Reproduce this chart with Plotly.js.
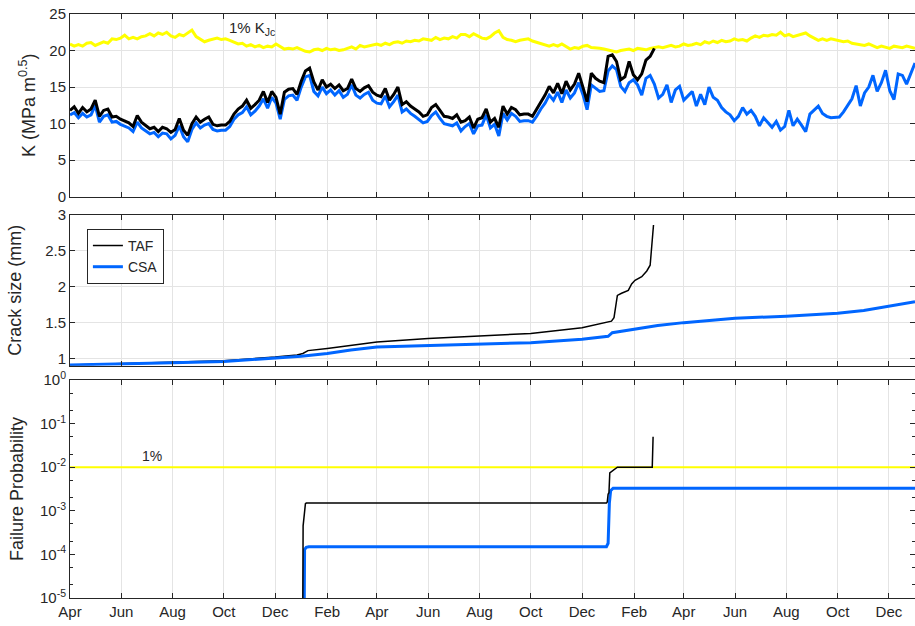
<!DOCTYPE html>
<html>
<head>
<meta charset="utf-8">
<script src="https://cdn.plot.ly/plotly-3.0.1.min.js"></script>
<style>
  html, body { margin: 0; padding: 0; background: #ffffff; }
  #chart { width: 915px; height: 626px; }
</style>
</head>
<body>
<div id="chart"></div>
<script>
// ---- time base: stress-intensity series sampled every 5 days from 1 Apr 2013 ----
const seriesStart = '2013-04-01';
const seriesStepDays = 5;
const axisRange = ['2013-04-01', '2016-01-01'];

// K, TAF model (MPa m^0.5)
const kTAF = [
  11.8,12.3,11.4,12.2,11.6,12.0,13.2,11.0,11.8,12.0,
  10.9,11.0,10.6,10.3,10.1,9.6,11.1,10.2,9.8,9.3,
  9.5,8.9,9.5,9.3,8.8,9.2,10.7,9.1,8.4,10.0,
  10.9,10.2,10.6,10.9,9.9,9.7,9.8,9.8,10.3,11.3,
  12.0,12.4,13.2,12.1,12.6,13.2,14.4,12.9,14.4,13.6,
  11.3,14.3,14.7,14.8,14.0,15.8,17.2,17.6,15.7,14.6,
  16.0,15.0,15.4,14.8,15.3,14.5,14.8,16.1,14.8,14.4,
  14.9,15.2,14.3,13.9,13.7,14.8,13.2,14.0,15.0,12.6,
  13.0,12.4,12.0,11.6,11.0,11.2,12.2,12.6,11.8,11.0,
  10.9,10.7,11.2,10.2,10.4,10.9,9.4,10.6,10.8,12.0,
  10.2,10.7,9.5,12.4,11.3,12.2,11.9,11.2,11.3,11.3,
  11.0,12.0,12.8,13.9,15.1,14.2,15.5,14.1,15.8,14.6,
  15.4,16.9,15.0,13.0,16.9,16.2,15.8,15.6,19.2,19.4,
  18.5,16.0,16.4,18.5,16.7,16.0,16.8,18.7,19.2,20.3
];

// K, CSA model (MPa m^0.5)
const kCSA = [
  11.2,11.5,10.8,11.4,10.9,11.2,12.5,10.2,11.0,11.2,
  10.2,10.3,9.9,9.6,9.4,8.9,10.2,9.4,9.0,8.6,
  8.8,8.2,8.7,8.6,7.9,8.4,9.7,8.2,7.5,9.2,
  10.1,9.4,9.8,10.0,9.2,9.0,9.1,9.1,9.6,10.6,
  11.2,11.5,12.3,11.2,11.7,12.4,13.4,12.1,13.6,12.8,
  10.6,13.3,13.8,13.9,13.2,15.0,16.4,16.6,14.4,13.8,
  15.0,14.1,14.6,13.9,14.5,13.6,14.0,15.3,13.9,13.5,
  14.0,14.3,13.2,12.8,12.7,13.8,12.3,13.0,13.9,11.6,
  12.0,11.4,11.0,10.6,10.1,10.3,11.1,11.6,10.7,10.0,
  9.9,9.7,10.1,9.0,9.6,10.0,8.6,9.7,9.8,11.2,
  9.4,9.9,8.3,11.4,10.5,11.4,11.0,10.3,10.4,10.4,
  10.2,11.0,12.0,12.8,13.9,13.2,14.3,12.9,14.6,13.5,
  14.2,15.6,14.0,11.9,15.3,14.8,14.4,14.5,17.2,17.9,
  17.4,15.1,14.4,15.6,16.0,15.3,13.9,16.2,16.6,15.4,
  13.5,14.0,15.3,12.9,14.6,15.1,13.2,13.8,14.4,12.4,
  14.0,12.6,15.0,13.6,13.2,12.2,11.6,11.2,10.4,11.0,
  12.2,11.3,11.8,11.0,9.7,10.8,10.1,9.5,10.3,9.1,
  9.6,11.8,9.7,10.6,9.8,8.9,11.3,11.9,12.4,11.4,
  11.0,10.8,10.8,10.9,11.6,12.5,13.4,15.2,12.4,14.2,
  15.0,16.6,14.4,15.6,17.3,14.5,13.3,16.8,16.6,15.4,
  16.8,18.3
];

// 1% fracture toughness K_Jc (MPa m^0.5)
const kJc1pct = [
  20.9,20.6,20.8,20.6,21.0,21.1,20.7,21.0,21.2,21.0,
  21.6,21.5,21.7,22.1,21.6,21.8,21.6,21.9,22.0,22.3,
  22.0,22.4,22.2,22.5,22.0,21.8,22.2,22.0,22.4,22.8,
  21.9,21.5,21.2,21.4,21.6,21.7,21.5,21.6,21.4,21.1,
  20.9,21.0,20.6,20.8,20.5,20.7,20.4,20.6,20.5,20.9,
  20.6,20.2,20.3,20.2,20.4,20.1,19.9,19.8,20.1,20.2,
  20.0,20.3,20.1,20.2,20.0,20.1,20.3,20.5,20.2,20.7,
  20.5,20.6,20.8,20.9,20.7,21.0,20.8,21.1,21.2,21.0,
  21.3,21.2,21.4,21.3,21.6,21.5,21.4,21.8,21.5,21.7,
  21.6,21.9,21.7,22.2,22.2,21.9,22.3,22.0,21.7,21.6,
  21.9,22.4,22.7,21.8,21.5,21.4,21.2,21.4,21.5,21.6,
  21.3,21.1,21.0,20.8,20.6,20.8,20.6,20.9,20.5,20.2,
  20.4,20.3,20.6,20.7,20.4,20.4,20.3,20.2,20.1,19.9,
  19.8,20.0,20.1,20.2,20.0,20.3,20.2,20.1,20.3,20.4,
  20.5,20.4,20.6,20.7,20.5,20.6,20.9,20.7,20.8,21.0,
  20.8,21.2,21.0,21.3,21.1,21.4,21.2,21.3,21.6,21.4,
  21.5,21.3,21.7,22.0,21.8,22.1,22.0,22.2,22.1,22.5,
  22.0,22.2,21.9,22.1,22.3,22.4,22.0,21.7,21.4,21.6,
  21.4,21.6,21.5,21.4,21.2,21.3,21.0,20.9,20.8,20.7,
  20.9,20.6,20.4,20.6,20.5,20.3,20.6,20.5,20.4,20.6,
  20.4,20.3
];

// ---- crack growth (mm) ----
const crackTAFDates = [
  '2013-04-01','2013-06-01','2013-08-01','2013-10-01','2013-12-01','2013-12-27',
  '2014-01-03','2014-01-09','2014-02-01','2014-03-01','2014-04-01','2014-06-01',
  '2014-08-01','2014-10-01','2014-12-01','2014-12-22','2015-01-01','2015-01-05',
  '2015-01-08','2015-01-10','2015-01-12','2015-01-17','2015-01-25','2015-01-29',
  '2015-02-02','2015-02-10','2015-02-16','2015-02-20','2015-02-22','2015-02-24'
];
const crackTAF = [
  0.91,0.93,0.95,0.97,1.02,1.05,
  1.07,1.11,1.14,1.185,1.23,1.28,
  1.31,1.35,1.43,1.48,1.50,1.52,
  1.57,1.70,1.88,1.91,1.95,2.04,
  2.09,2.14,2.22,2.30,2.56,2.86
];
const crackCSADates = [
  '2013-04-01','2013-06-01','2013-08-01','2013-10-01','2013-12-01','2014-01-01',
  '2014-02-01','2014-03-01','2014-04-01','2014-06-01','2014-08-01','2014-10-01',
  '2014-12-01','2015-01-01','2015-01-06','2015-02-01','2015-03-01','2015-04-01',
  '2015-06-01','2015-08-01','2015-10-01','2015-11-01','2015-12-01','2016-01-01'
];
const crackCSA = [
  0.91,0.92,0.94,0.96,1.00,1.03,
  1.07,1.12,1.16,1.18,1.20,1.22,
  1.27,1.31,1.36,1.41,1.46,1.50,
  1.56,1.59,1.63,1.67,1.73,1.79
];

// ---- cumulative failure probability ----
const pfTAFDates = [
  '2014-01-02 12:00','2014-01-03 06:00','2014-01-06','2014-01-07','2014-12-30',
  '2014-12-31','2015-01-01','2015-01-02','2015-01-03','2015-01-05','2015-01-07',
  '2015-01-09','2015-01-12','2015-02-22 12:00','2015-02-23 12:00'
];
const pfTAF = [
  1e-7,4.5e-4,1.45e-3,1.5e-3,1.5e-3,
  1.6e-3,2.4e-3,2.6e-3,7.4e-3,8.0e-3,8.5e-3,
  9.3e-3,1.0e-2,1.0e-2,5.0e-2
];
const pfCSADates = [
  '2014-01-04','2014-01-05','2014-01-07','2014-01-10','2014-12-30',
  '2015-01-01','2015-01-02 12:00','2015-01-04','2015-01-07','2016-01-01'
];
const pfCSA = [
  1e-7,1.3e-4,1.45e-4,1.5e-4,1.5e-4,
  1.8e-4,1.5e-3,2.9e-3,3.3e-3,3.3e-3
];
const pfLimitDates = ['2013-04-01','2016-01-01'];
const pfLimit = [0.01,0.01];

// ---- helpers ----
function sampledDates(n) {
  const t0 = Date.parse(seriesStart + 'T00:00:00Z');
  const out = [];
  for (let i = 0; i < n; i++) {
    out.push(new Date(t0 + i * seriesStepDays * 86400000).toISOString().slice(0, 10));
  }
  return out;
}

const BLACK = '#000000';
const BLUE = '#0066ff';
const YELLOW = '#ffff00';
const INK = '#262626';
const FONT = 'Liberation Sans, Arial, Helvetica, sans-serif';

const traces = [
  // K panel
  { x: sampledDates(kJc1pct.length), y: kJc1pct, xaxis: 'x', yaxis: 'y', mode: 'lines',
    line: { color: YELLOW, width: 3 }, showlegend: false },
  { x: sampledDates(kCSA.length), y: kCSA, xaxis: 'x', yaxis: 'y', mode: 'lines',
    line: { color: BLUE, width: 3 }, showlegend: false },
  { x: sampledDates(kTAF.length), y: kTAF, xaxis: 'x', yaxis: 'y', mode: 'lines',
    line: { color: BLACK, width: 3 }, showlegend: false },
  // crack size panel
  { x: crackTAFDates, y: crackTAF, xaxis: 'x2', yaxis: 'y2', mode: 'lines', name: 'TAF',
    line: { color: BLACK, width: 1.5 }, legendrank: 1 },
  { x: crackCSADates, y: crackCSA, xaxis: 'x2', yaxis: 'y2', mode: 'lines', name: 'CSA',
    line: { color: BLUE, width: 3 }, legendrank: 2 },
  // failure probability panel
  { x: pfLimitDates, y: pfLimit, xaxis: 'x3', yaxis: 'y3', mode: 'lines',
    line: { color: YELLOW, width: 2 }, showlegend: false },
  { x: pfCSADates, y: pfCSA, xaxis: 'x3', yaxis: 'y3', mode: 'lines',
    line: { color: BLUE, width: 3 }, showlegend: false },
  { x: pfTAFDates, y: pfTAF, xaxis: 'x3', yaxis: 'y3', mode: 'lines',
    line: { color: BLACK, width: 1.5 }, showlegend: false }
];

const frame = {
  showline: true, linecolor: INK, linewidth: 1, mirror: 'ticks',
  ticks: 'inside', ticklen: 5, tickcolor: INK, tickwidth: 1,
  showgrid: true, gridcolor: '#e4e4e4', gridwidth: 1, zeroline: false,
  tickfont: { family: FONT, size: 15, color: INK }
};
const dateAxis = (extra) => Object.assign({}, frame, {
  type: 'date', range: axisRange, tick0: '2013-04-01', dtick: 'M2', tickformat: '%b'
}, extra);
const yTitle = (text, standoff) => ({ text: text, standoff: standoff,
  font: { family: FONT, size: 18, color: INK } });

const layout = {
  width: 915, height: 626,
  margin: { l: 70, r: 0, t: 14, b: 28 },
  paper_bgcolor: '#ffffff', plot_bgcolor: '#ffffff',
  font: { family: FONT, color: INK },
  xaxis:  dateAxis({ anchor: 'y',  matches: 'x3', showticklabels: false }),
  xaxis2: dateAxis({ anchor: 'y2', matches: 'x3', showticklabels: false }),
  xaxis3: dateAxis({ anchor: 'y3' }),
  yaxis: Object.assign({}, frame, {
    domain: [0.6872, 1], range: [0, 25], tick0: 0, dtick: 5,
    title: yTitle('K (MPa m<sup>0.5</sup>)', 9)
  }),
  yaxis2: Object.assign({}, frame, {
    domain: [0.3978, 0.6558], range: [0.9, 3], tick0: 1, dtick: 0.5,
    title: yTitle('Crack size (mm)', 18)
  }),
  yaxis3: Object.assign({}, frame, {
    domain: [0, 0.3733], type: 'log', range: [-5, 0], showgrid: false,
    tickvals: [1e-5, 1e-4, 1e-3, 1e-2, 1e-1, 1],
    ticktext: ['10<sup>-5</sup>','10<sup>-4</sup>','10<sup>-3</sup>','10<sup>-2</sup>','10<sup>-1</sup>','10<sup>0</sup>'],
    minor: { ticks: 'inside', ticklen: 3, tickcolor: INK, showgrid: false },
    title: yTitle('Failure Probability', 11)
  }),
  legend: {
    x: 0.02, y: 0.632, xanchor: 'left', yanchor: 'top',
    bgcolor: '#ffffff', bordercolor: INK, borderwidth: 1,
    font: { family: FONT, size: 14, color: INK },
    itemwidth: 30, tracegroupgap: 0
  },
  annotations: [
    { xref: 'x', yref: 'y', x: '2013-10-05', y: 23.0, xanchor: 'left', yanchor: 'middle',
      text: '1% K<sub>Jc</sub>', showarrow: false, font: { family: FONT, size: 15, color: INK } },
    { xref: 'x3', yref: 'y3', x: '2013-06-23', y: -2, xanchor: 'left', yanchor: 'bottom',
      text: '1%', showarrow: false, yshift: 1, font: { family: FONT, size: 14, color: INK } }
  ]
};

Plotly.newPlot('chart', traces, layout, { displayModeBar: false, staticPlot: true });
</script>
</body>
</html>
